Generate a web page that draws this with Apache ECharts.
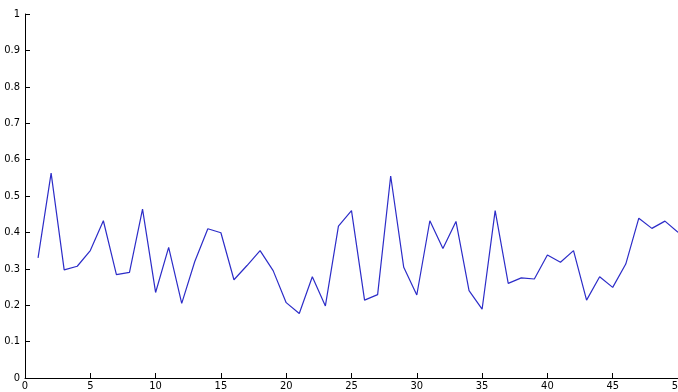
<!DOCTYPE html>
<html>
<head>
<meta charset="utf-8">
<script src="https://cdn.jsdelivr.net/npm/echarts@6/dist/echarts.min.js"></script>
<style>html,body{margin:0;padding:0;background:#fff;}#c{width:678px;height:392px;}</style>
</head>
<body>
<div id="c"></div>
<script>
const xValues = [1,2,3,4,5,6,7,8,9,10,11,12,13,14,15,16,17,18,19,20,21,22,23,24,25,26,27,28,29,30,31,32,33,34,35,36,37,38,39,40,41,42,43,44,45,46,47,48,49,50];
const yValues = [0.330,0.563,0.297,0.307,0.350,0.432,0.284,0.290,0.464,0.235,0.359,0.205,0.320,0.410,0.399,0.270,0.309,0.350,0.295,0.207,0.177,0.278,0.198,0.417,0.460,0.214,0.229,0.555,0.304,0.228,0.432,0.356,0.430,0.240,0.189,0.460,0.260,0.275,0.272,0.338,0.318,0.350,0.214,0.278,0.249,0.313,0.439,0.411,0.431,0.400];
const xTicks = [0,5,10,15,20,25,30,35,40,45,50];
const yTicks = [0,0.1,0.2,0.3,0.4,0.5,0.6,0.7,0.8,0.9,1];

const font = "'Liberation Sans Narrow','DejaVu Sans Condensed','Liberation Sans',sans-serif";
const chart = echarts.init(document.getElementById('c'), null, {renderer:'canvas'});
chart.setOption({
  animation:false,
  backgroundColor:'#ffffff',
  grid:{left:25,right:0,top:14,bottom:14,containLabel:false,outerBoundsMode:'none'},
  xAxis:{
    type:'value',min:xTicks[0],max:xTicks[xTicks.length-1],interval:5,
    axisLine:{show:true,onZero:false,lineStyle:{color:'#000',width:1}},
    axisTick:{show:true,inside:true,length:5,lineStyle:{color:'#000'}},
    axisLabel:{color:'#000',fontSize:11,fontFamily:font,margin:3,showMaxLabel:true,showMinLabel:true,hideOverlap:false},
    splitLine:{show:false}
  },
  yAxis:{
    type:'value',min:yTicks[0],max:yTicks[yTicks.length-1],interval:0.1,
    axisLine:{show:true,onZero:false,lineStyle:{color:'#000',width:1}},
    axisTick:{show:true,inside:true,length:5,lineStyle:{color:'#000'}},
    axisLabel:{color:'#000',fontSize:11,fontFamily:font,margin:5,
      formatter:function(v){return String(Math.round(v*10)/10);}},
    splitLine:{show:false}
  },
  series:[{
    type:'line',
    data:xValues.map((x,i)=>[x,yValues[i]]),
    symbol:'none',
    lineStyle:{color:'#2c2cc8',width:1.2},
    itemStyle:{color:'#2c2cc8'}
  }]
});
</script>
</body>
</html>
